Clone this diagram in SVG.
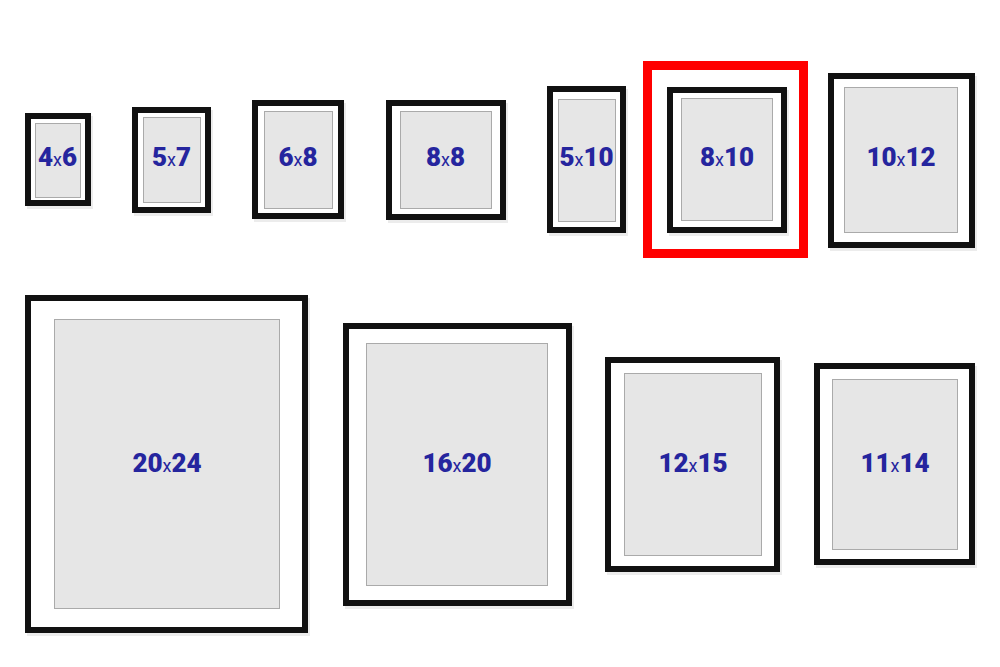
<svg xmlns="http://www.w3.org/2000/svg" width="1000" height="667" viewBox="0 0 1000 667">
<style>
.sh{fill:#ececec}
.fr{fill:#ffffff;stroke:#111111;stroke-width:6}
.mat{fill:#e6e6e6;stroke:#aaaaaa;stroke-width:1}
.lb{font-family:Roboto,"Liberation Sans",sans-serif;font-weight:900;font-size:26px;fill:#25259e;text-anchor:middle}
.x{font-weight:400;font-size:18px}
.red{fill:none;stroke:#ff0000;stroke-width:9}
</style>
<rect width="1000" height="667" fill="#ffffff"/>
<g id="f4x6">
<rect class="sh" x="27" y="116" width="66" height="93"/>
<rect class="fr" x="28" y="116" width="60" height="87"/>
<rect class="mat" x="35.5" y="123.5" width="45" height="74"/>
<text class="lb" x="57.5" y="166">4<tspan class="x">x</tspan>6</text>
</g>
<g id="f5x7">
<rect class="sh" x="134" y="110" width="79" height="106"/>
<rect class="fr" x="135" y="110" width="73" height="100"/>
<rect class="mat" x="143.5" y="117.5" width="57" height="85"/>
<text class="lb" x="171.5" y="166">5<tspan class="x">x</tspan>7</text>
</g>
<g id="f6x8">
<rect class="sh" x="254" y="103" width="92" height="119"/>
<rect class="fr" x="255" y="103" width="86" height="113"/>
<rect class="mat" x="264.5" y="111.5" width="68" height="97"/>
<text class="lb" x="298" y="166">6<tspan class="x">x</tspan>8</text>
</g>
<g id="f8x8">
<rect class="sh" x="388" y="103" width="120" height="120"/>
<rect class="fr" x="389" y="103" width="114" height="114"/>
<rect class="mat" x="400.5" y="111.5" width="91" height="97"/>
<text class="lb" x="445.5" y="166">8<tspan class="x">x</tspan>8</text>
</g>
<g id="f5x10">
<rect class="sh" x="549" y="89" width="79" height="147"/>
<rect class="fr" x="550" y="89" width="73" height="141"/>
<rect class="mat" x="558.5" y="99.5" width="57" height="122"/>
<text class="lb" x="586.5" y="166">5<tspan class="x">x</tspan>10</text>
</g>
<g id="f8x10">
<rect class="red" x="647.5" y="65.5" width="156" height="188"/>
<rect class="sh" x="669" y="90" width="120" height="146"/>
<rect class="fr" x="670" y="90" width="114" height="140"/>
<rect class="mat" x="681.5" y="98.5" width="91" height="122"/>
<text class="lb" x="727" y="166">8<tspan class="x">x</tspan>10</text>
</g>
<g id="f10x12">
<rect class="sh" x="830" y="76" width="147" height="175"/>
<rect class="fr" x="831" y="76" width="141" height="169"/>
<rect class="mat" x="844.5" y="87.5" width="113" height="145"/>
<text class="lb" x="901" y="166">10<tspan class="x">x</tspan>12</text>
</g>
<g id="f20x24">
<rect class="sh" x="27" y="298" width="283" height="338"/>
<rect class="fr" x="28" y="298" width="277" height="332"/>
<rect class="mat" x="54.5" y="319.5" width="225" height="289"/>
<text class="lb" x="167" y="472">20<tspan class="x">x</tspan>24</text>
</g>
<g id="f16x20">
<rect class="sh" x="345" y="326" width="229" height="283"/>
<rect class="fr" x="346" y="326" width="223" height="277"/>
<rect class="mat" x="366.5" y="343.5" width="181" height="242"/>
<text class="lb" x="457" y="472">16<tspan class="x">x</tspan>20</text>
</g>
<g id="f12x15">
<rect class="sh" x="607" y="360" width="175" height="215"/>
<rect class="fr" x="608" y="360" width="169" height="209"/>
<rect class="mat" x="624.5" y="373.5" width="137" height="182"/>
<text class="lb" x="693" y="472">12<tspan class="x">x</tspan>15</text>
</g>
<g id="f11x14">
<rect class="sh" x="816" y="366" width="161" height="202"/>
<rect class="fr" x="817" y="366" width="155" height="196"/>
<rect class="mat" x="832.5" y="379.5" width="125" height="170"/>
<text class="lb" x="895" y="472">11<tspan class="x">x</tspan>14</text>
</g>
<g id="connectors"/>
</svg>
